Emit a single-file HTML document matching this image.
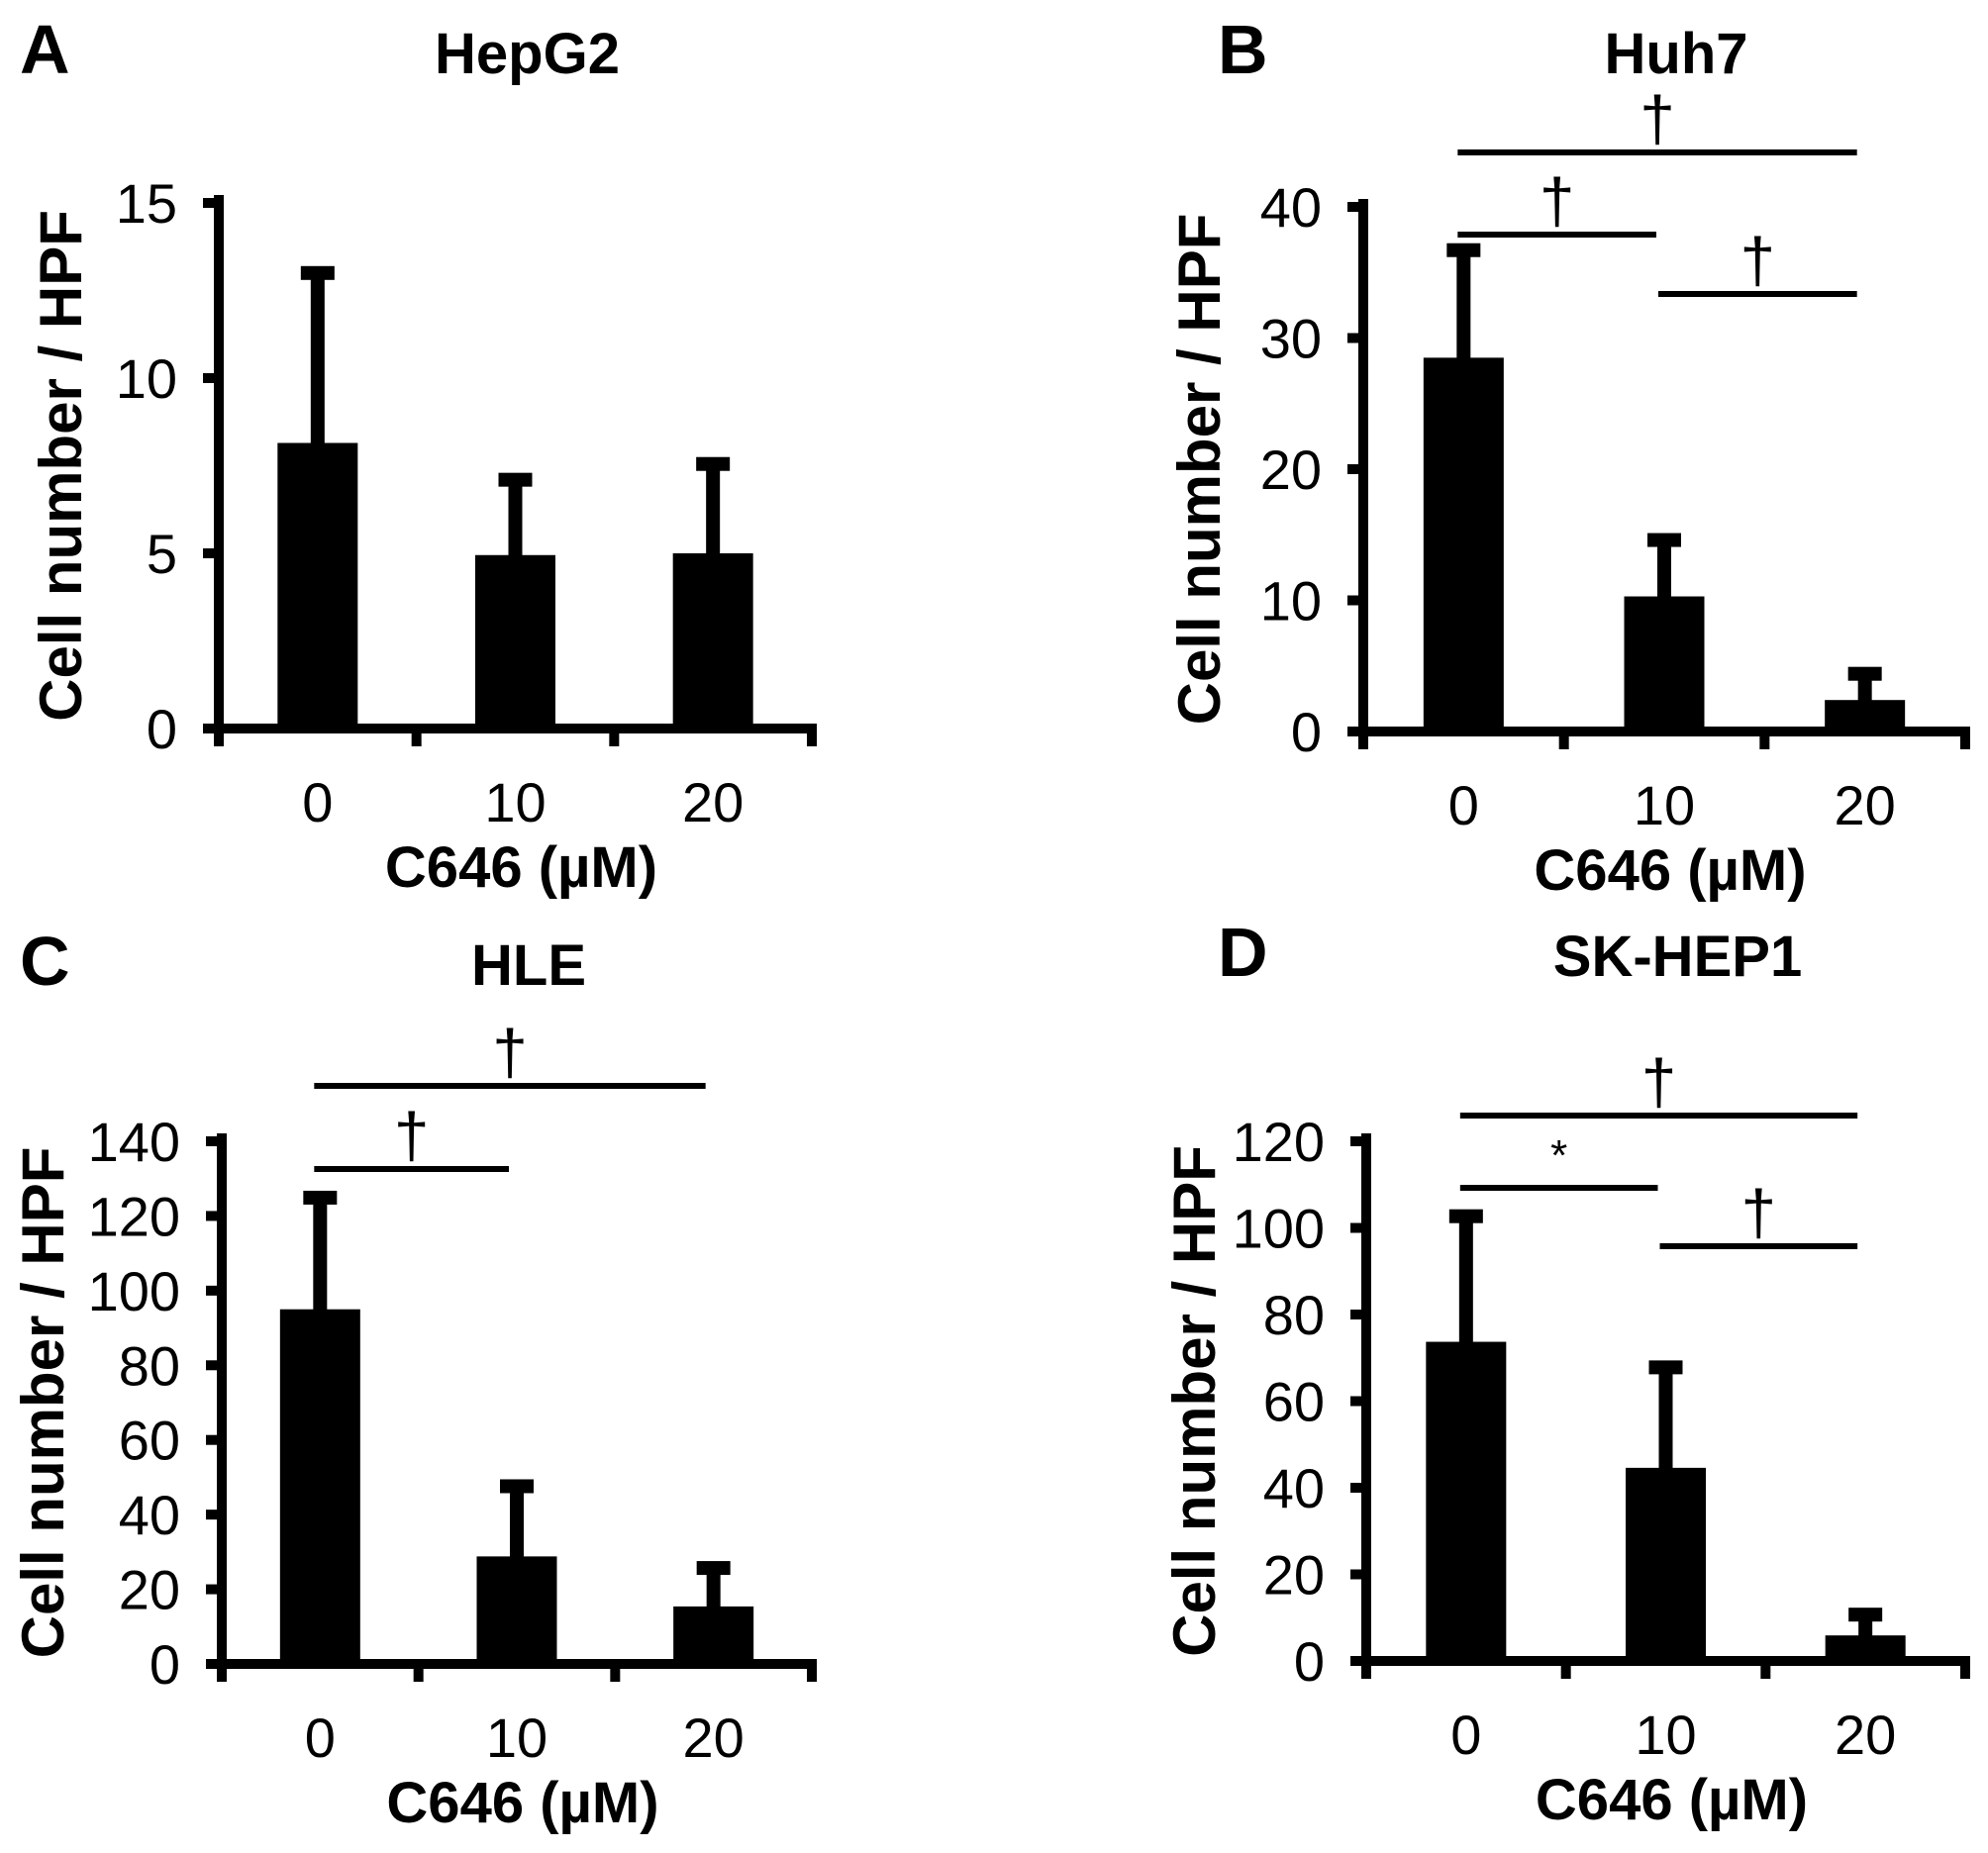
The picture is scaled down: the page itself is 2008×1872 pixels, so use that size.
<!DOCTYPE html>
<html><head><meta charset="utf-8">
<style>
html,body{margin:0;padding:0;background:#fff;}
svg{display:block;}
text{font-family:"Liberation Sans",Arial,sans-serif;fill:#000;}
</style></head>
<body>
<svg id="fig" width="2008" height="1872" viewBox="0 0 2008 1872" xmlns="http://www.w3.org/2000/svg"></svg>
<script>
// ---- data ----
const categories = ["0", "10", "20"];
const hepg2Means = [8.15, 4.95, 5.0];
const hepg2Errors = [13.0, 7.1, 7.55];
const huh7Means = [28.5, 10.3, 2.4];
const huh7Errors = [36.7, 14.6, 4.4];
const hleMeans = [95.0, 28.8, 15.4];
const hleErrors = [124.9, 47.6, 25.7];
const skhepMeans = [73.7, 44.6, 5.9];
const skhepErrors = [102.7, 67.8, 10.7];
const hepg2Ticks = [0, 5, 10, 15];
const huh7Ticks = [0, 10, 20, 30, 40];
const hleTicks = [0, 20, 40, 60, 80, 100, 120, 140];
const skhepTicks = [0, 20, 40, 60, 80, 100, 120];
// significance brackets: [fromIndex, toIndex, symbol]
const huh7Sig = [[0, 2, "†"], [0, 1, "†"], [1, 2, "†"]];
const hleSig = [[0, 2, "†"], [0, 1, "†"]];
const skhepSig = [[0, 2, "†"], [0, 1, "*"], [1, 2, "†"]];

const NS = "http://www.w3.org/2000/svg";
const svg = document.getElementById("fig");
function mk(tag, attrs, parent) {
  const e = document.createElementNS(NS, tag);
  for (const k in attrs) e.setAttribute(k, attrs[k]);
  (parent || svg).appendChild(e);
  return e;
}

function panel(cfg) {
  const g = mk("g", {});
  
  
  const ax = cfg.ax, y0 = cfg.y0, yTop = cfg.yTop, xEnd = cfg.xEnd;
  const maxV = cfg.ticks[cfg.ticks.length - 1];
  const yScale = v => y0 - (v / maxV) * (y0 - yTop);
  const slot = (xEnd - ax) / categories.length;
  const xCenter = i => ax + slot * (i + 0.5);
  const barW = 81;

  const L = mk("text", {x: cfg.letterX, y: cfg.titleY, "font-size": 70, "font-weight": "bold"}, g);
  L.textContent = cfg.letter;
  
  
  const T = mk("text", {x: (ax + xEnd) / 2 + 12, y: cfg.titleY, "font-size": 58, "font-weight": "bold", "text-anchor": "middle"}, g);
  T.textContent = cfg.title;
  
  

  cfg.means.forEach((m, i) => {
    const cx = xCenter(i);
    const e = cfg.errors[i];
    const stem = mk("rect", {x: cx - 7, y: yScale(e), width: 14, height: yScale(m) - yScale(e) + 2}, g);
    
    
    const cap = mk("rect", {x: cx - 17, y: yScale(e) - 7, width: 34, height: 14}, g);
    
    
    const b = mk("rect", {x: cx - barW / 2, y: yScale(m), width: barW, height: y0 - yScale(m)}, g);
    
    
    const xl = mk("text", {x: cx, y: y0 + 94, "font-size": 56, "text-anchor": "middle"}, g);
    xl.textContent = categories[i];
    
    
  });

  const ya = mk("rect", {x: ax - 5, y: yTop - 8, width: 10, height: y0 - yTop + 13}, g);
  
  
  const xa = mk("rect", {x: ax - 5, y: y0 - 5, width: xEnd - ax + 10, height: 10}, g);
  
  
  for (let i = 0; i <= categories.length; i++) {
    const tx = ax + slot * i;
    const t = mk("rect", {x: tx - 5, y: y0, width: 10, height: 18}, g);
    
    
  }
  cfg.ticks.forEach(v => {
    const yy = yScale(v);
    const t = mk("rect", {x: ax - 16, y: yy - 5, width: 16, height: 10}, g);
    
    
    const lb = mk("text", {x: ax - 42, y: yy + 20, "font-size": 56, "text-anchor": "end"}, g);
    lb.textContent = v;
    
    
  });

  const yc = (y0 + yTop) / 2;
  const yt = mk("text", {x: 0, y: 0, "font-size": 60, "font-weight": "bold", "text-anchor": "middle",
    transform: "translate(" + cfg.yTitleX + "," + yc + ") rotate(-90)"}, g);
  yt.textContent = "Cell number / HPF";
  
  
  const xt = mk("text", {x: (ax + xEnd) / 2 + 6, y: y0 + 160, "font-size": 58, "font-weight": "bold", "text-anchor": "middle"}, g);
  xt.textContent = "C646 (µM)";
  
  

  (cfg.sig || []).forEach((s, k) => {
    const ly = cfg.sigY[k];
    const x1 = xCenter(s[0]) - 6, x2 = xCenter(s[1]) - 8;
    const ln = mk("rect", {x: x1, y: ly - 3, width: x2 - x1, height: 6}, g);
    
    
    const star = s[2] === "*";
    const sy = mk("text", {x: (x1 + x2) / 2, y: star ? ly - 18 : ly - 12, "font-size": star ? 44 : 64, "text-anchor": "middle"}, g);
    sy.textContent = s[2];
    
    
  });
}

panel({id: "hepg2", letter: "A", title: "HepG2", letterX: 20, titleY: 74, ax: 221, y0: 736, yTop: 205, xEnd: 820,
  ticks: hepg2Ticks, means: hepg2Means, errors: hepg2Errors, yTitleX: 82});
panel({id: "huh7", letter: "B", title: "Huh7", letterX: 1230, titleY: 74, ax: 1377, y0: 739, yTop: 209, xEnd: 1985,
  ticks: huh7Ticks, means: huh7Means, errors: huh7Errors, yTitleX: 1232, sig: huh7Sig, sigY: [154, 237, 297]});
panel({id: "hle", letter: "C", title: "HLE", letterX: 20, titleY: 995, ax: 224, y0: 1681, yTop: 1153, xEnd: 820,
  ticks: hleTicks, means: hleMeans, errors: hleErrors, yTitleX: 64, sig: hleSig, sigY: [1097, 1181]});
panel({id: "skhep1", letter: "D", title: "SK-HEP1", letterX: 1230, titleY: 986, ax: 1380, y0: 1678, yTop: 1153, xEnd: 1985,
  ticks: skhepTicks, means: skhepMeans, errors: skhepErrors, yTitleX: 1227, sig: skhepSig, sigY: [1127, 1200, 1259]});
</script>
</body></html>
